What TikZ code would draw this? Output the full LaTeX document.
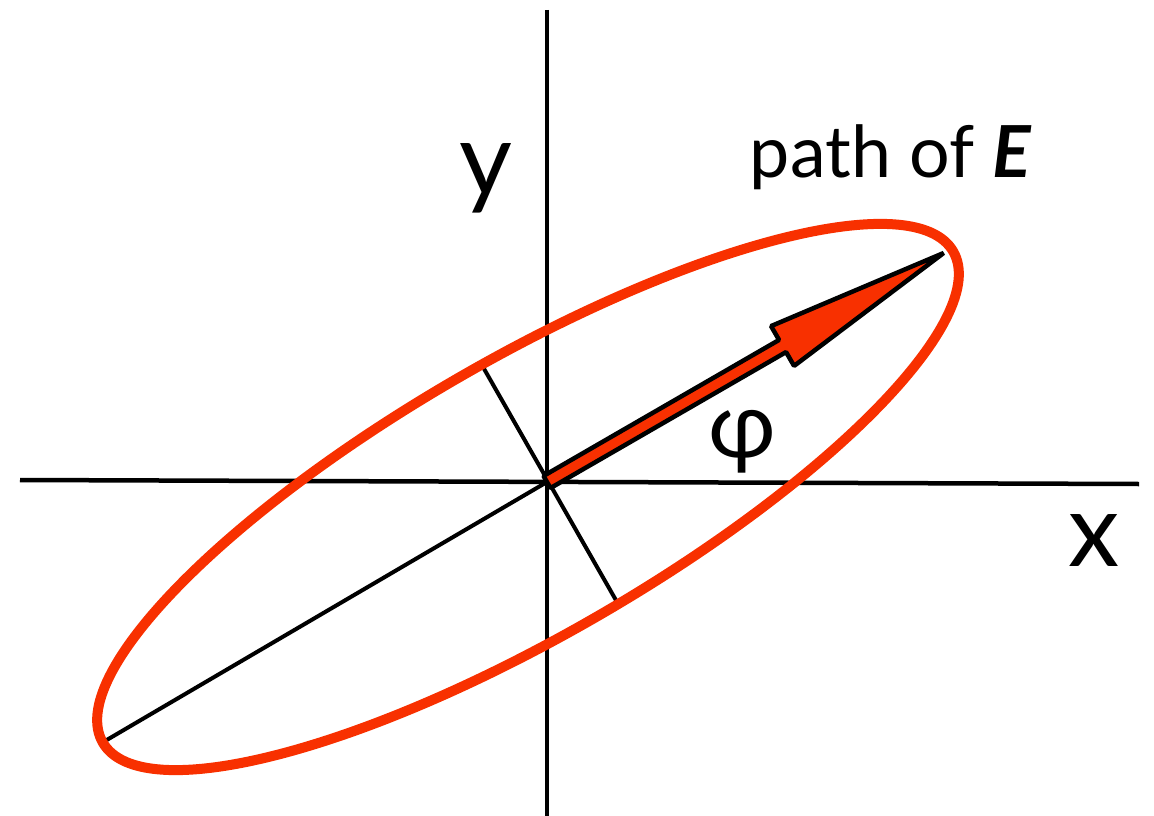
\documentclass[tikz,border=0pt]{standalone}
\usepackage{fontspec}
\setmainfont{Lato}
\usepackage{xcolor}
\usetikzlibrary{arrows.meta, positioning, calc}
\definecolor{Ered}{RGB}{248,48,0}
\begin{document}
\begin{tikzpicture}[x=1bp, y=-1bp,
    axisline/.style={line width=4.5bp, black},
    semiaxis/.style={line width=4bp, black},
    Epath/.style={line width=10bp, draw=Ered},
    Evec/.style={line width=4.5bp, draw=black, fill=Ered, line join=bevel},
    bigletter/.style={inner sep=0pt, font=\fontsize{103}{110}\selectfont},
    smalltext/.style={inner sep=0pt, font=\fontsize{72}{80}\selectfont}]
    \useasboundingbox (0,0) rectangle (1154,816);
    \coordinate (O) at (547,482);
    \coordinate (C) at (528,497);
    \coordinate (xleft) at (20,480);
    \coordinate (xright) at (1139,484);
    \coordinate (ytop) at (547,10);
    \coordinate (ybot) at (547,816);
    \coordinate (majend) at (105,741);
    \coordinate (minup) at (483,367);
    \coordinate (mindown) at (617,602);
    \draw[axisline] (xleft) -- (xright);
    \draw[axisline] (ytop) -- (ybot);
    \draw[semiaxis] (O) -- (majend);
    \draw[semiaxis] (minup) -- (mindown);
    \draw[Epath, rotate around={30:(C)}] (C) ellipse [x radius=491, y radius=138];
    \begin{scope}[shift={(O)}, rotate=30]
        \filldraw[Evec] (0,-7) -- (272,-7) -- (272,-23) -- (458,0) -- (272,23) -- (272,7) -- (0,7) -- cycle;
    \end{scope}
    \node[bigletter] (ylabel) at (486,178) {y};
    \node[bigletter] (xlabel) at (1094,541) {x};
    \node[smalltext] (pathlabel) at (891,157) {path of \textbf{\textit{E}}};
    \node[smalltext, font=\fontsize{92}{100}\selectfont] (philabel) at (742,442) {φ};
\end{tikzpicture}
\end{document}
